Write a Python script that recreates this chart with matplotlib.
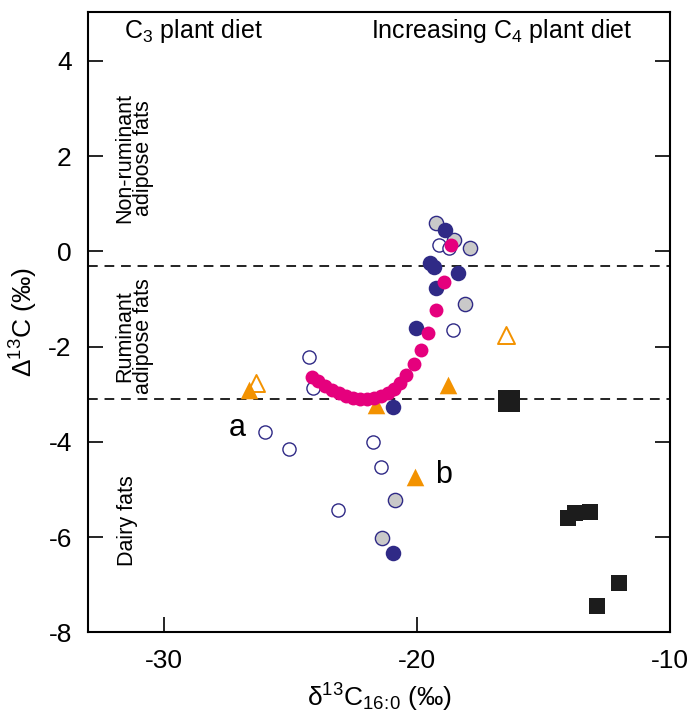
import matplotlib
matplotlib.use("Agg")
import matplotlib.pyplot as plt
import numpy as np

plt.rcParams["font.family"] = ["Liberation Sans", "DejaVu Sans"]
plt.rcParams["mathtext.fontset"] = "custom"
plt.rcParams["mathtext.rm"] = "Liberation Sans"
plt.rcParams["mathtext.it"] = "Liberation Sans"
plt.rcParams["axes.unicode_minus"] = False

# open circles (navy edge, white fill)
open_x = [-19.13, -18.73, -18.57, -24.3, -24.11, -26.04, -25.09, -21.77, -21.42, -23.12]
open_y = [0.13, 0.06, -1.66, -2.22, -2.87, -3.80, -4.14, -4.01, -4.53, -5.43]

# grey circles
grey_x = [-19.25, -18.53, -17.9, -18.1, -20.87, -21.38]
grey_y = [0.59, 0.23, 0.06, -1.11, -5.22, -6.02]

# filled navy circles
navy_x = [-18.89, -19.5, -19.35, -18.41, -19.25, -20.04, -20.98, -20.98]
navy_y = [0.44, -0.25, -0.32, -0.46, -0.78, -1.62, -3.27, -6.34]

# pink curve
pink_x = [-18.65, -18.93, -19.28, -19.56, -19.84, -20.15, -20.43, -20.67, -20.91,
          -21.14, -21.42, -21.70, -21.97, -22.25, -22.53, -22.80, -23.08, -23.36,
          -23.63, -23.91, -24.15]
pink_y = [0.13, -0.65, -1.24, -1.72, -2.08, -2.37, -2.60, -2.77, -2.89, -2.98,
          -3.04, -3.08, -3.10, -3.10, -3.08, -3.04, -2.98, -2.92, -2.83, -2.73, -2.64]

# triangles
tri_x = [-26.64, -21.62, -18.77, -20.11]
tri_y = [-2.92, -3.23, -2.81, -4.74]
tri_open_x = [-26.36, -16.48]
tri_open_y = [-2.77, -1.76]

# squares
sq_big_x = [-16.36]
sq_big_y = [-3.15]
sq_x = [-14.03, -13.75, -13.16, -12.01, -12.88]
sq_y = [-5.60, -5.50, -5.47, -6.96, -7.45]

boundaries = [-0.3, -3.1]

navy = "#2f2a86"
pink = "#e5007d"
orange = "#f39200"

fig = plt.figure(figsize=(6.91, 7.17), dpi=100)
ax = fig.add_axes([0.128, 0.118, 0.842, 0.865])

for b in boundaries:
    ax.axhline(b, color="#222222", lw=1.4, ls=(0, (5, 3.5)), zorder=1)

ax.scatter(tri_open_x, tri_open_y, marker="^", s=150, facecolor="white",
           edgecolor=orange, lw=1.4, zorder=2)
ax.scatter(tri_x, tri_y, marker="^", s=160, color=orange, lw=0, zorder=3)
ax.scatter(open_x, open_y, s=90, facecolor="white", edgecolor=navy, lw=1.0, zorder=3)
ax.scatter(grey_x, grey_y, s=105, facecolor="#c9c9c9", edgecolor=navy, lw=1.0, zorder=3)
ax.scatter(navy_x, navy_y, s=125, color=navy, lw=0, zorder=4)
ax.scatter(pink_x, pink_y, s=100, color=pink, lw=0, zorder=5)
ax.scatter(sq_big_x, sq_big_y, marker="s", s=230, color="#1c1c1c", lw=0, zorder=4)
ax.scatter(sq_x, sq_y, marker="s", s=130, color="#1c1c1c", lw=0, zorder=4)

ax.set_xlim(-33, -10)
ax.set_ylim(-8, 5.02)
ax.set_xticks([-30, -20, -10])
ax.set_yticks([4, 2, 0, -2, -4, -6, -8])
ax.tick_params(direction="in", length=11, width=1.2, labelsize=19,
               top=False, right=True, pad=12)
for sp in ax.spines.values():
    sp.set_linewidth(1.5)

ax.set_xlabel(r"$\mathregular{\delta^{13}C_{16\!:\!0}}$ (‰)", fontsize=19, labelpad=6)
ax.set_ylabel(r"$\mathregular{\Delta^{13}C}$ (‰)", fontsize=19)
ax.yaxis.set_label_coords(-0.083, 0.5)

ax.text(-31.6, 4.62, r"C$\mathregular{_3}$ plant diet", fontsize=18, va="center")
ax.text(-11.5, 4.62, r"Increasing C$\mathregular{_4}$ plant diet", fontsize=18,
        va="center", ha="right")
ax.text(-31.2, 1.95, "Non-ruminant\nadipose fats", rotation=90, fontsize=15.5,
        ha="center", va="center", linespacing=0.9)
ax.text(-31.2, -1.78, "Ruminant\nadipose fats", rotation=90, fontsize=15.5,
        ha="center", va="center", linespacing=0.9)
ax.text(-31.45, -5.65, "Dairy fats", rotation=90, fontsize=15.5,
        ha="center", va="center")
ax.text(-27.1, -3.71, "a", fontsize=22, ha="center", va="center")
ax.text(-18.97, -4.7, "b", fontsize=22, ha="center", va="center")

fig.savefig("out.png", dpi=100)
